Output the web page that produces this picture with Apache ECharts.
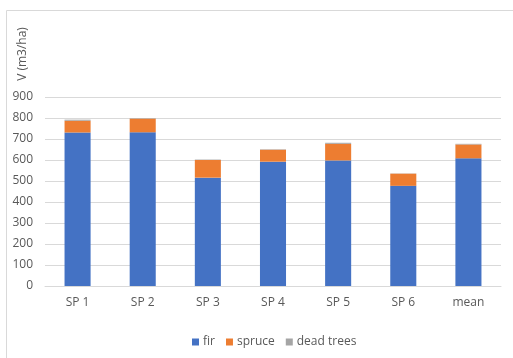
<!DOCTYPE html>
<html>
<head>
<meta charset="utf-8">
<script src="https://cdn.jsdelivr.net/npm/echarts@6/dist/echarts.min.js"></script>
<style>
  html, body { margin: 0; padding: 0; background: #fff; }
  #chart { width: 513px; height: 358px; }
</style>
</head>
<body>
<div id="chart"></div>
<script>
// Standing volume per sample plot, stacked by component
const categories = ['SP 1', 'SP 2', 'SP 3', 'SP 4', 'SP 5', 'SP 6', 'mean'];
const fir = [731, 732, 516, 592, 598, 477, 608];
const spruce = [56, 65, 84, 57, 79, 58, 66];
const deadTrees = [5, 2, 2, 2, 5, 1, 3];
const yTicks = { min: 0, max: 900, interval: 100 };
const yTitle = 'V (m3/ha)';

const font = '"Open Sans", "Noto Sans", sans-serif';
const textGray = '#595959';

const chart = echarts.init(document.getElementById('chart'), null, { renderer: 'canvas' });

function barSeries(name, data, color) {
  return {
    name: name,
    type: 'bar',
    stack: 'volume',
    data: data,
    barWidth: '40%',
    itemStyle: { color: color },
    emphasis: { disabled: true }
  };
}

chart.setOption({
  animation: false,
  graphic: [{
    type: 'rect',
    shape: { x: 6.5, y: 10.5, width: 520, height: 360 },
    style: { fill: 'none', stroke: '#d9d9d9', lineWidth: 1 },
    silent: true
  }, {
    // vertical axis title
    type: 'text',
    x: 23,
    y: 54,
    rotation: Math.PI / 2,
    style: {
      text: yTitle,
      fill: textGray,
      font: '12px ' + font,
      align: 'center',
      verticalAlign: 'middle'
    },
    silent: true
  }],
  grid: { left: 45, right: 12, top: 97, bottom: 72, containLabel: false },
  legend: {
    bottom: 5,
    left: 187,
    itemWidth: 7,
    itemHeight: 7,
    itemGap: 11,
    icon: 'rect',
    textStyle: { color: textGray, fontSize: 12, fontFamily: font, padding: [0, 0, 0, -1] },
    data: ['fir', 'spruce', 'dead trees']
  },
  xAxis: {
    type: 'category',
    data: categories,
    axisLine: { lineStyle: { color: '#d9d9d9' } },
    axisTick: { show: false },
    axisLabel: { color: textGray, fontSize: 12, fontFamily: font, margin: 11 }
  },
  yAxis: {
    type: 'value',
    min: yTicks.min,
    max: yTicks.max,
    interval: yTicks.interval,
    axisLine: { show: false },
    axisTick: { show: false },
    splitLine: { lineStyle: { color: '#d9d9d9', width: 1 } },
    axisLabel: { color: textGray, fontSize: 12, fontFamily: font, margin: 12 }
  },
  series: [
    barSeries('fir', fir, '#4472c4'),
    barSeries('spruce', spruce, '#ed7d31'),
    barSeries('dead trees', deadTrees, '#a5a5a5')
  ]
});
</script>
</body>
</html>
